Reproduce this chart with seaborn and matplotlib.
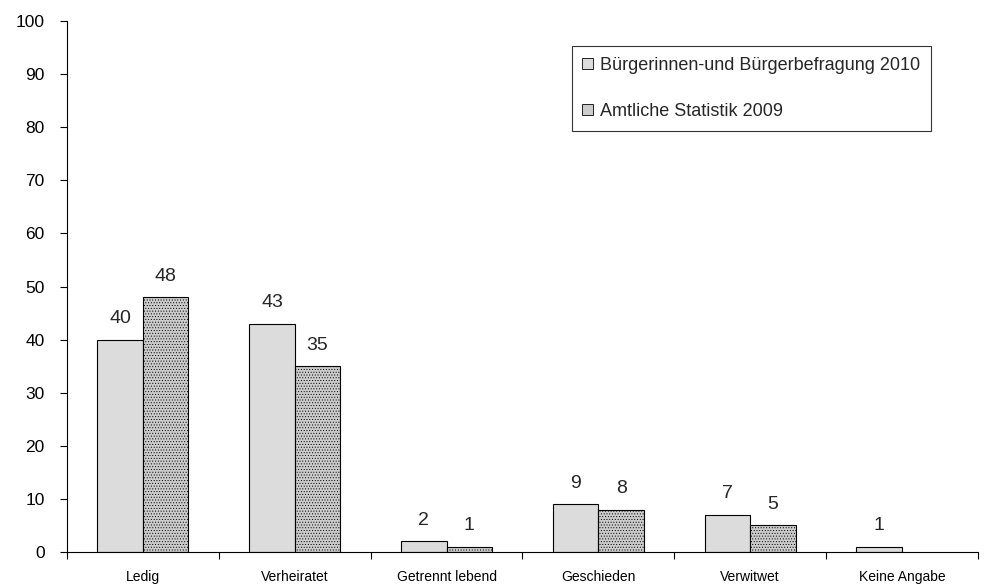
import matplotlib
matplotlib.use("Agg")
import matplotlib.pyplot as plt
import seaborn as sns
import pandas as pd
import numpy as np

categories = ["Ledig", "Verheiratet", "Getrennt lebend", "Geschieden", "Verwitwet", "Keine Angabe"]
survey_2010 = [40, 43, 2, 9, 7, 1]
official_2009 = [48, 35, 1, 8, 5, None]
series_names = ["Bürgerinnen-und Bürgerbefragung 2010", "Amtliche Statistik 2009"]

sns.set_theme(style="white")
plt.rcParams["font.family"] = ["Liberation Sans", "DejaVu Sans"]
plt.rcParams["hatch.color"] = "#9a9a9a"
plt.rcParams["hatch.linewidth"] = 0.4

df = pd.DataFrame({
    "Kategorie": categories * 2,
    "Anteil": survey_2010 + official_2009,
    "Quelle": [series_names[0]] * len(categories) + [series_names[1]] * len(categories),
})

fig = plt.figure(figsize=(9.88, 5.85), dpi=100)
ax = fig.add_axes([0.0678, 0.0564, 0.922, 0.9076])

colors = ["#dcdcdc", "#cccccc"]
sns.barplot(data=df, x="Kategorie", y="Anteil", hue="Quelle", order=categories,
            hue_order=series_names, palette=colors, width=0.6, edgecolor="black",
            linewidth=0.8, saturation=1, ax=ax, legend=True)

# fine stipple on the official-statistics bars
for bar in ax.containers[1]:
    bar.set_hatch("......")

# value labels above each bar
for cont in ax.containers:
    labels = [("" if np.isnan(v) or v == 0 else f"{v:.0f}") for v in cont.datavalues]
    ax.bar_label(cont, labels=labels, padding=9, fontsize=14)

ax.set_ylim(0, 100)
ax.set_xlim(-0.5, len(categories) - 0.5)
ax.set_yticks(np.arange(0, 101, 10))
ax.set_xlabel("")
ax.set_ylabel("")
ax.tick_params(axis="y", labelsize=12.5, length=5, width=0.8, direction="out", left=True, pad=11, colors="black")
ax.tick_params(axis="x", which="major", labelsize=10, length=0, pad=13, colors="black")
ax.set_xticks(np.arange(-0.5, len(categories), 1), minor=True)
ax.tick_params(axis="x", which="minor", length=5, width=0.8, direction="out", bottom=True, colors="black")

for side in ["top", "right"]:
    ax.spines[side].set_visible(False)
for side in ["left", "bottom"]:
    ax.spines[side].set_color("black")
    ax.spines[side].set_linewidth(0.8)

handles, labels = ax.get_legend_handles_labels()
for h in handles:
    h.set_linewidth(0.6)
leg = ax.legend(handles, labels, loc="upper left", bbox_to_anchor=(0.554, 0.953),
                fontsize=13, frameon=True, fancybox=False, edgecolor="black",
                handlelength=0.6, handleheight=0.6, handletextpad=0.35,
                labelspacing=1.6, borderpad=0.6, borderaxespad=0)
leg.get_frame().set_linewidth(0.8)

fig.savefig("out.png", dpi=100)
